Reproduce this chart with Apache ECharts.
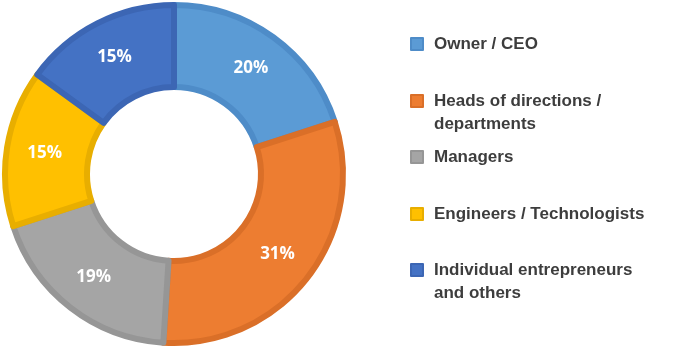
<!DOCTYPE html>
<html><head><meta charset="utf-8">
<script src="https://cdn.jsdelivr.net/npm/echarts@6/dist/echarts.min.js"></script>
<style>html,body{margin:0;padding:0;background:#fff}#c{width:700px;height:348px}</style>
</head><body><div id="c"></div>
<script>
const categories = ['Owner / CEO', 'Heads of directions / departments', 'Managers', 'Engineers / Technologists', 'Individual entrepreneurs and others'];
const legendLines = [['Owner / CEO'], ['Heads of directions /', 'departments'], ['Managers'], ['Engineers / Technologists'], ['Individual entrepreneurs', 'and others']];
const values = [20, 31, 19, 15, 15];
const fillColors = ['#5B9BD5', '#ED7D31', '#A5A5A5', '#FFC000', '#4472C4'];
const borderColors = ['#4E8CC8', '#DA6F28', '#969696', '#E8AE00', '#3C66B4'];
const legendIconY = [44, 101, 157, 214, 270];

const LH = 23;
const legends = categories.map((name, i) => {
  const lines = legendLines[i];
  const multi = lines.length > 1;
  // prepend blank lines so that the first text line sits level with the icon
  const shown = multi ? Array(lines.length - 1).fill(' ').concat(lines) : lines;
  const boxH = LH * shown.length;
  return {
    orient: 'vertical',
    left: 410,
    top: legendIconY[i] - boxH / 2,
    padding: 0,
    itemWidth: 12,
    itemHeight: 12,
    icon: 'rect',
    data: [name],
    formatter: () => shown.join('\n'),
    textStyle: {
      fontFamily: 'Liberation Sans, Arial, sans-serif',
      fontWeight: 'bold',
      fontSize: 17,
      lineHeight: LH,
      color: '#3d3d3d',
      padding: [0, 0, 0, 6]
    },
    selectedMode: false
  };
});

const chart = echarts.init(document.getElementById('c'), null, {renderer: 'canvas'});
chart.setOption({
  animation: false,
  legend: legends,
  series: [{
    type: 'pie',
    center: [174, 174],
    radius: [87, 169],
    startAngle: 90,
    clockwise: true,
    avoidLabelOverlap: false,
    label: {
      show: true,
      position: 'inside',
      formatter: '{c}%',
      color: '#ffffff',
      fontFamily: 'Open Sans, sans-serif',
      fontWeight: 'bold',
      fontSize: 17
    },
    labelLine: {show: false},
    emphasis: {disabled: true},
    data: categories.map((n, i) => ({
      name: n,
      value: values[i],
      itemStyle: {color: fillColors[i], borderColor: borderColors[i], borderWidth: 6}
    }))
  }]
});
</script></body></html>
